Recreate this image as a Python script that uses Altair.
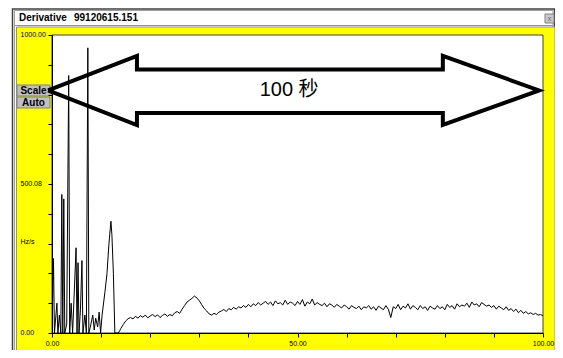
import altair as alt
import pandas as pd

# ---- data ----
spike_x = [0.0, 0.3, 0.5, 0.7, 1.0, 1.2, 1.5, 1.8, 2.0, 2.2, 2.4, 2.6, 3.0, 3.4, 3.6,
           3.9, 4.2, 4.9, 5.1, 5.3, 5.5, 5.8, 6.1, 6.3, 6.7, 7.0, 7.3, 7.5, 7.8, 8.3,
           8.6, 8.9, 9.3, 9.6, 9.9, 10.2, 10.8, 11.2, 11.6, 12.0, 12.2, 12.5, 12.8, 13.5, 13.8]
spike_y = [0, 250, 0, 40, 100, 0, 60, 0, 465, 0, 450, 0, 30, 864, 0,
           100, 0, 286, 0, 236, 0, 80, 243, 0, 60, 0, 957, 0, 20, 60,
           10, 50, 20, 70, 0, 60, 140, 200, 300, 375, 330, 200, 0, 0, 8]

tail_start = 14.0
tail_step = 0.5
tail_y = [15, 28, 40, 48, 52, 47, 56, 50, 58, 53,
          60, 51, 57, 62, 55, 61, 52, 59, 64, 56,
          62, 58, 68, 72, 66, 80, 92, 104, 110, 116,
          124, 118, 108, 95, 82, 74, 64, 60, 66, 62,
          70, 74, 79, 72, 82, 78, 86, 80, 88, 84,
          92, 86, 96, 88, 98, 92, 102, 94, 100, 106,
          96, 104, 92, 108, 98, 102, 94, 110, 96, 104,
          100, 92, 106, 96, 112, 90, 104, 98, 114, 94,
          102, 96, 92, 100, 88, 98, 94, 86, 96, 90,
          84, 94, 88, 80, 92, 86, 82, 90, 78, 88,
          84, 92, 80, 88, 76, 90, 84, 78, 92, 80,
          52, 88, 82, 96, 78, 90, 84, 98, 80, 92,
          86, 78, 92, 82, 88, 76, 90, 84, 80, 92,
          82, 88, 78, 96, 86, 92, 80, 98, 88, 94,
          90, 100, 86, 104, 94, 98, 88, 102, 96, 90,
          94, 86, 92, 80, 90, 84, 78, 88, 76, 82,
          72, 80, 68, 76, 66, 72, 64, 68, 62, 66,
          60, 62, 58]
tail_x = [tail_start + i * tail_step for i in range(len(tail_y))]

arrow_x = [-0.8, 17.3, 17.3, 79.6, 79.6, 99.2, 79.6, 79.6, 17.3, 17.3, -0.8]
arrow_y = [814, 930, 884, 884, 930, 814, 698, 738, 738, 698, 814]

y_ticks = [0, 100, 200, 300, 400, 500, 600, 700, 800, 900, 1000]
x_ticks = [0, 10, 20, 30, 40, 50, 60, 70, 80, 90, 100]

title_left = "Derivative"
title_right = "99120615.151"
arrow_label = "100 秒"
y_title = "Hz/s"

series = pd.DataFrame({"t": spike_x + tail_x, "v": spike_y + tail_y})
series["o"] = range(len(series))
arrow = pd.DataFrame({"t": arrow_x, "v": arrow_y, "o": range(len(arrow_x))})
label_df = pd.DataFrame({"t": [48.3], "v": [814], "lab": [arrow_label]})
one = pd.DataFrame({"a": [0]})

W, H = 491, 298
xs = alt.Scale(domain=[0, 100], nice=False, zero=False)
ys = alt.Scale(domain=[0, 1000], nice=False, zero=False)
FONT = "Liberation Sans"

y_label = ("datum.value == 0 ? '0.00' : datum.value == 500 ? '500.08' : "
           "datum.value == 1000 ? '1000.00' : ''")
x_label = ("datum.value == 0 ? '0.00' : datum.value == 50 ? '50.00' : "
           "datum.value == 100 ? '100.00' : ''")

x_axis = alt.Axis(
    values=x_ticks, labelExpr=x_label, tickSize=4, tickColor="black",
    domainColor="black", labelFont=FONT, labelFontSize=7, labelColor="black",
    labelPadding=2, labelFlush=False, labelOverlap=False, grid=False,
    title=None, zindex=2)
y_axis = alt.Axis(
    values=y_ticks, labelExpr=y_label, tickSize=4, tickColor="black",
    domainColor="black", labelFont=FONT, labelFontSize=7, labelColor="black",
    labelAlign="left", labelBaseline="middle", labelPadding=28, labelOffset=-1,
    labelOverlap=False, labelFlush=False, grid=False,
    title=y_title, titleAngle=0, titleX=-32, titleY=206, titleAlign="left",
    titleBaseline="middle", titleFont=FONT, titleFontSize=7,
    titleFontWeight="normal", titleColor="black", zindex=2)

X = alt.X("t:Q", scale=xs, axis=x_axis)
Y = alt.Y("v:Q", scale=ys, axis=y_axis)

base = alt.Chart(one)

window = base.mark_rect(fill="white", stroke="#404040", strokeWidth=1.5).encode(
    x=alt.value(-39.5), x2=alt.value(502.5), y=alt.value(-26), y2=alt.value(330))
inner = base.mark_rect(fill="white", stroke="#a0a0a0", strokeWidth=1).encode(
    x=alt.value(-37.5), x2=alt.value(501), y=alt.value(-24.5), y2=alt.value(330))
sep = base.mark_rule(color="#909090", strokeWidth=1).encode(
    x=alt.value(-37), x2=alt.value(501), y=alt.value(-9.5))
yellow = base.mark_rect(fill="#ffff00", stroke="#909090", strokeWidth=1).encode(
    x=alt.value(-35.5), x2=alt.value(503), y=alt.value(-8), y2=alt.value(330))
t1 = base.mark_text(align="left", baseline="middle", font=FONT, fontSize=10,
                    fontWeight="bold", color="black").encode(
    x=alt.value(-33), y=alt.value(-17), text=alt.value(title_left))
t2 = base.mark_text(align="left", baseline="middle", font=FONT, fontSize=10,
                    fontWeight="bold", color="black").encode(
    x=alt.value(22), y=alt.value(-17), text=alt.value(title_right))
closeb = base.mark_rect(fill="#c8c8c8", stroke="#808080", strokeWidth=1).encode(
    x=alt.value(493), x2=alt.value(502), y=alt.value(-21), y2=alt.value(-12))
closet = base.mark_text(align="center", baseline="middle", font=FONT, fontSize=8,
                        color="#707070").encode(
    x=alt.value(497.5), y=alt.value(-16.5), text=alt.value("x"))
plotbg = base.mark_rect(fill="white", stroke="#404040", strokeWidth=1).encode(
    x=alt.value(0), x2=alt.value(W), y=alt.value(0), y2=alt.value(H))

btn_scale = base.mark_rect(fill="#c0c0c0", stroke="#808080", strokeWidth=1).encode(
    x=alt.value(-35), x2=alt.value(-2), y=alt.value(50), y2=alt.value(61))
btn_auto = base.mark_rect(fill="#c0c0c0", stroke="#808080", strokeWidth=1).encode(
    x=alt.value(-35), x2=alt.value(-2), y=alt.value(62), y2=alt.value(73))
txt_scale = base.mark_text(align="center", baseline="middle", font=FONT, fontSize=10,
                           fontWeight="bold", color="black").encode(
    x=alt.value(-18.5), y=alt.value(56), text=alt.value("Scale"))
txt_auto = base.mark_text(align="center", baseline="middle", font=FONT, fontSize=10,
                          fontWeight="bold", color="black").encode(
    x=alt.value(-18.5), y=alt.value(68), text=alt.value("Auto"))

line = alt.Chart(series).mark_line(color="black", strokeWidth=1, clip=True).encode(
    x=X, y=Y, order="o:Q")

arrow_line = alt.Chart(arrow).mark_line(color="black", strokeWidth=4,
                                        strokeJoin="miter").encode(
    x=X, y=Y, order="o:Q")

arrow_text = alt.Chart(label_df).mark_text(
    align="center", baseline="middle", font="Liberation Sans, Noto Sans CJK SC",
    fontSize=20, color="black").encode(x=X, y=Y, text="lab:N")

chart = alt.layer(
    window, inner, sep, yellow, t1, t2, closeb, closet, plotbg,
    btn_scale, btn_auto, txt_scale, txt_auto,
    line, arrow_line, arrow_text
).properties(
    width=W, height=H,
    autosize=alt.AutoSizeParams(type="none"),
    padding={"left": 44, "top": 27, "right": 12, "bottom": 17},
    background="white"
).configure_view(stroke=None, fill=None)

chart.save("out.html", embed_options={"renderer": "svg", "actions": False})
